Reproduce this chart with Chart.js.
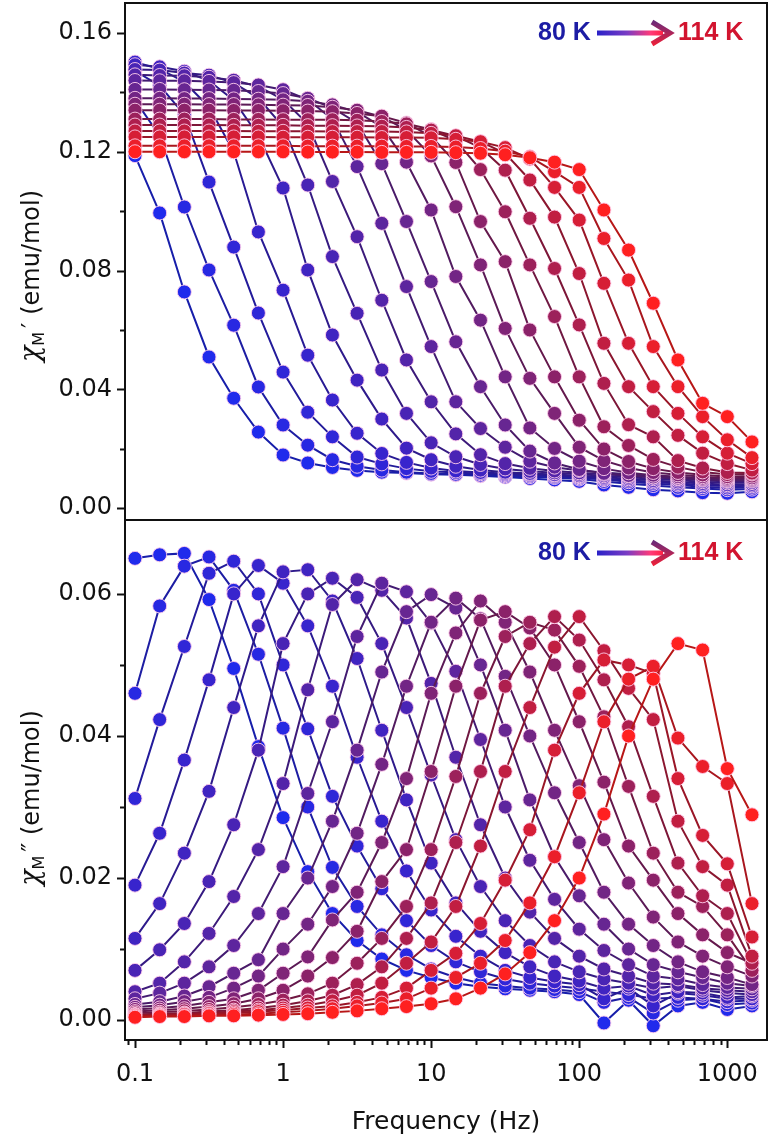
<!DOCTYPE html>
<html>
<head>
<meta charset="utf-8">
<script src="https://cdn.jsdelivr.net/npm/chart.js@4.4.1/dist/chart.umd.min.js"></script>
<style>
  html, body { margin: 0; padding: 0; background: #fff; }
  #wrap { position: relative; width: 775px; height: 1143px; }
  canvas { position: absolute; left: 0; }
  #top-chart { top: 0; }
  #bottom-chart { top: 516px; }
</style>
</head>
<body>
<div id="wrap">
  <canvas id="top-chart" width="775" height="524"></canvas>
  <canvas id="bottom-chart" width="775" height="627"></canvas>
</div>
<script>
// ac frequencies (Hz)
const freqHz = [0.1, 0.1468, 0.2154, 0.3162, 0.4642, 0.6813, 1, 1.468, 2.154, 3.162, 4.642, 6.813,
  10, 14.68, 21.54, 31.62, 46.42, 68.13, 100, 146.8, 215.4, 316.2, 464.2, 681.3, 1000, 1468];
const temps = [80, 82, 84, 86, 88, 90, 92, 94, 96, 98, 100, 102, 104, 106, 108, 110, 112, 114];

// chi' (emu/mol)
const re80 = [0.1187, 0.0994, 0.0728, 0.0509, 0.0370, 0.0256, 0.0179, 0.0152, 0.0137, 0.0127, 0.0121, 0.0118, 0.0114, 0.0112, 0.0109, 0.0105, 0.0100, 0.0095, 0.0090, 0.0078, 0.0070, 0.0062, 0.0058, 0.0052, 0.0050, 0.0055];
const re82 = [0.1374, 0.1254, 0.1014, 0.0802, 0.0616, 0.0408, 0.0280, 0.0212, 0.0163, 0.0141, 0.0128, 0.0121, 0.0117, 0.0114, 0.0111, 0.0109, 0.0106, 0.0103, 0.0098, 0.0090, 0.0082, 0.0076, 0.0070, 0.0066, 0.0062, 0.0064];
const re84 = [0.1472, 0.1423, 0.1325, 0.1098, 0.0879, 0.0657, 0.0458, 0.0323, 0.0240, 0.0172, 0.0149, 0.0133, 0.0124, 0.0120, 0.0116, 0.0113, 0.0110, 0.0107, 0.0102, 0.0096, 0.0089, 0.0083, 0.0078, 0.0072, 0.0068, 0.0070];
const re86 = [0.1502, 0.1479, 0.1435, 0.1351, 0.1200, 0.0930, 0.0734, 0.0515, 0.0364, 0.0252, 0.0184, 0.0154, 0.0135, 0.0125, 0.0120, 0.0117, 0.0114, 0.0111, 0.0106, 0.0100, 0.0094, 0.0088, 0.0083, 0.0078, 0.0074, 0.0075];
const re88 = [0.1493, 0.1486, 0.1471, 0.1439, 0.1374, 0.1254, 0.1078, 0.0802, 0.0583, 0.0431, 0.0300, 0.0202, 0.0163, 0.0141, 0.0128, 0.0121, 0.0117, 0.0113, 0.0109, 0.0104, 0.0099, 0.0093, 0.0088, 0.0083, 0.0079, 0.0080];
const re90 = [0.1477, 0.1475, 0.1465, 0.1458, 0.1432, 0.1381, 0.1285, 0.1088, 0.0847, 0.0656, 0.0465, 0.0319, 0.0220, 0.0173, 0.0147, 0.0132, 0.0124, 0.0119, 0.0114, 0.0109, 0.0104, 0.0099, 0.0094, 0.0089, 0.0085, 0.0086];
const re92 = [0.1459, 0.1457, 0.1456, 0.1451, 0.1441, 0.1420, 0.1376, 0.1293, 0.1100, 0.0914, 0.0700, 0.0499, 0.0358, 0.0250, 0.0180, 0.0150, 0.0134, 0.0125, 0.0119, 0.0114, 0.0109, 0.0104, 0.0099, 0.0094, 0.0090, 0.0091];
const re94 = [0.1440, 0.1439, 0.1439, 0.1437, 0.1433, 0.1425, 0.1409, 0.1376, 0.1310, 0.1150, 0.0959, 0.0746, 0.0544, 0.0358, 0.0268, 0.0205, 0.0158, 0.0138, 0.0127, 0.0120, 0.0114, 0.0109, 0.0104, 0.0099, 0.0095, 0.0096];
const re96 = [0.1410, 0.1410, 0.1409, 0.1408, 0.1407, 0.1403, 0.1396, 0.1380, 0.1348, 0.1297, 0.1160, 0.0965, 0.0763, 0.0560, 0.0409, 0.0280, 0.0192, 0.0152, 0.0130, 0.0117, 0.0110, 0.0105, 0.0101, 0.0097, 0.0093, 0.0094];
const re98 = [0.1380, 0.1380, 0.1379, 0.1379, 0.1378, 0.1377, 0.1375, 0.1370, 0.1358, 0.1334, 0.1284, 0.1165, 0.1004, 0.0780, 0.0633, 0.0442, 0.0270, 0.0201, 0.0158, 0.0133, 0.0119, 0.0111, 0.0106, 0.0101, 0.0097, 0.0098];
const re100 = [0.1360, 0.1360, 0.1360, 0.1359, 0.1359, 0.1358, 0.1357, 0.1356, 0.1350, 0.1340, 0.1318, 0.1273, 0.1186, 0.1015, 0.0819, 0.0605, 0.0437, 0.0319, 0.0205, 0.0160, 0.0135, 0.0120, 0.0112, 0.0106, 0.0101, 0.0102];
const re102 = [0.1340, 0.1340, 0.1340, 0.1340, 0.1339, 0.1339, 0.1338, 0.1337, 0.1335, 0.1329, 0.1320, 0.1297, 0.1251, 0.1164, 0.0965, 0.0830, 0.0600, 0.0442, 0.0296, 0.0199, 0.0157, 0.0133, 0.0120, 0.0112, 0.0106, 0.0108];
const re104 = [0.1310, 0.1310, 0.1310, 0.1310, 0.1309, 0.1309, 0.1308, 0.1308, 0.1308, 0.1306, 0.1302, 0.1294, 0.1275, 0.1237, 0.1140, 0.0998, 0.0819, 0.0645, 0.0442, 0.0274, 0.0211, 0.0164, 0.0138, 0.0122, 0.0113, 0.0115];
const re106 = [0.1290, 0.1290, 0.1290, 0.1290, 0.1289, 0.1289, 0.1289, 0.1288, 0.1288, 0.1287, 0.1286, 0.1282, 0.1273, 0.1253, 0.1214, 0.1138, 0.0976, 0.0807, 0.0617, 0.0420, 0.0281, 0.0240, 0.0160, 0.0135, 0.0120, 0.0118];
const re108 = [0.1270, 0.1270, 0.1270, 0.1270, 0.1270, 0.1269, 0.1269, 0.1269, 0.1268, 0.1268, 0.1268, 0.1267, 0.1262, 0.1254, 0.1234, 0.1195, 0.1105, 0.0980, 0.0790, 0.0555, 0.0409, 0.0325, 0.0245, 0.0185, 0.0150, 0.0128];
const re110 = [0.1250, 0.1250, 0.1250, 0.1250, 0.1250, 0.1250, 0.1249, 0.1249, 0.1249, 0.1249, 0.1248, 0.1248, 0.1247, 0.1242, 0.1234, 0.1214, 0.1176, 0.1080, 0.0970, 0.0757, 0.0555, 0.0409, 0.0319, 0.0240, 0.0185, 0.0150];
const re112 = [0.1220, 0.1220, 0.1220, 0.1220, 0.1220, 0.1220, 0.1220, 0.1219, 0.1219, 0.1219, 0.1219, 0.1218, 0.1218, 0.1216, 0.1211, 0.1202, 0.1183, 0.1133, 0.1080, 0.0908, 0.0768, 0.0544, 0.0409, 0.0308, 0.0230, 0.0170];
const re114 = [0.1200, 0.1200, 0.1200, 0.1200, 0.1200, 0.1200, 0.1200, 0.1199, 0.1199, 0.1199, 0.1198, 0.1198, 0.1198, 0.1197, 0.1195, 0.1190, 0.1180, 0.1165, 0.1140, 0.1004, 0.0869, 0.0690, 0.0499, 0.0353, 0.0308, 0.0223];

// chi'' (emu/mol)
const im80 = [0.0650, 0.0655, 0.0657, 0.0592, 0.0495, 0.0385, 0.0285, 0.0209, 0.0150, 0.0112, 0.0086, 0.0070, 0.0060, 0.0052, 0.0047, 0.0044, 0.0042, 0.0040, 0.0036, -0.0004, 0.0028, -0.0008, 0.0020, 0.0025, 0.0015, 0.0020];
const im82 = [0.0460, 0.0583, 0.0639, 0.0652, 0.0605, 0.0515, 0.0411, 0.0300, 0.0215, 0.0160, 0.0120, 0.0092, 0.0072, 0.0060, 0.0052, 0.0048, 0.0045, 0.0043, 0.0040, 0.0025, 0.0032, 0.0010, 0.0028, 0.0030, 0.0022, 0.0024];
const im84 = [0.0312, 0.0423, 0.0526, 0.0629, 0.0646, 0.0600, 0.0500, 0.0410, 0.0315, 0.0245, 0.0185, 0.0140, 0.0105, 0.0082, 0.0068, 0.0058, 0.0052, 0.0048, 0.0045, 0.0040, 0.0036, 0.0030, 0.0032, 0.0030, 0.0026, 0.0028];
const im86 = [0.0190, 0.0263, 0.0366, 0.0479, 0.0600, 0.0640, 0.0615, 0.0555, 0.0470, 0.0370, 0.0280, 0.0210, 0.0155, 0.0118, 0.0090, 0.0070, 0.0060, 0.0054, 0.0050, 0.0030, 0.0045, 0.0020, 0.0038, 0.0035, 0.0030, 0.0030];
const im88 = [0.0115, 0.0164, 0.0235, 0.0322, 0.0440, 0.0555, 0.0631, 0.0634, 0.0590, 0.0509, 0.0408, 0.0310, 0.0221, 0.0165, 0.0125, 0.0095, 0.0075, 0.0062, 0.0055, 0.0045, 0.0048, 0.0035, 0.0040, 0.0038, 0.0032, 0.0034];
const im90 = [0.0070, 0.0099, 0.0136, 0.0195, 0.0275, 0.0380, 0.0530, 0.0600, 0.0622, 0.0595, 0.0530, 0.0440, 0.0345, 0.0254, 0.0188, 0.0140, 0.0105, 0.0082, 0.0068, 0.0058, 0.0052, 0.0045, 0.0048, 0.0042, 0.0038, 0.0036];
const im92 = [0.0040, 0.0052, 0.0082, 0.0122, 0.0174, 0.0240, 0.0333, 0.0465, 0.0585, 0.0620, 0.0605, 0.0566, 0.0474, 0.0370, 0.0275, 0.0200, 0.0152, 0.0115, 0.0090, 0.0072, 0.0062, 0.0052, 0.0050, 0.0045, 0.0042, 0.0040];
const im94 = [0.0030, 0.0038, 0.0052, 0.0075, 0.0105, 0.0150, 0.0216, 0.0319, 0.0420, 0.0540, 0.0615, 0.0603, 0.0559, 0.0491, 0.0395, 0.0300, 0.0225, 0.0170, 0.0128, 0.0098, 0.0078, 0.0062, 0.0058, 0.0050, 0.0046, 0.0044];
const im96 = [0.0022, 0.0026, 0.0034, 0.0047, 0.0066, 0.0085, 0.0150, 0.0200, 0.0280, 0.0380, 0.0490, 0.0575, 0.0599, 0.0580, 0.0500, 0.0408, 0.0310, 0.0230, 0.0175, 0.0135, 0.0100, 0.0078, 0.0068, 0.0060, 0.0052, 0.0048];
const im98 = [0.0018, 0.0021, 0.0026, 0.0032, 0.0045, 0.0062, 0.0100, 0.0135, 0.0188, 0.0263, 0.0360, 0.0470, 0.0560, 0.0594, 0.0565, 0.0484, 0.0400, 0.0320, 0.0250, 0.0180, 0.0135, 0.0105, 0.0082, 0.0068, 0.0060, 0.0050];
const im100 = [0.0015, 0.0017, 0.0020, 0.0025, 0.0030, 0.0042, 0.0066, 0.0089, 0.0141, 0.0180, 0.0250, 0.0340, 0.0460, 0.0545, 0.0590, 0.0560, 0.0490, 0.0408, 0.0330, 0.0254, 0.0193, 0.0145, 0.0110, 0.0090, 0.0075, 0.0062];
const im102 = [0.0012, 0.0014, 0.0016, 0.0019, 0.0023, 0.0030, 0.0042, 0.0062, 0.0088, 0.0125, 0.0195, 0.0240, 0.0350, 0.0470, 0.0563, 0.0575, 0.0552, 0.0500, 0.0420, 0.0335, 0.0245, 0.0197, 0.0150, 0.0120, 0.0095, 0.0080];
const im104 = [0.0010, 0.0011, 0.0013, 0.0015, 0.0018, 0.0022, 0.0028, 0.0037, 0.0052, 0.0080, 0.0115, 0.0160, 0.0240, 0.0343, 0.0460, 0.0540, 0.0560, 0.0549, 0.0498, 0.0427, 0.0329, 0.0235, 0.0180, 0.0160, 0.0120, 0.0070];
const im106 = [0.0008, 0.0009, 0.0010, 0.0012, 0.0014, 0.0017, 0.0021, 0.0027, 0.0035, 0.0050, 0.0075, 0.0115, 0.0165, 0.0250, 0.0350, 0.0470, 0.0530, 0.0568, 0.0535, 0.0479, 0.0413, 0.0315, 0.0221, 0.0175, 0.0150, 0.0080];
const im108 = [0.0007, 0.0008, 0.0009, 0.0010, 0.0012, 0.0014, 0.0017, 0.0021, 0.0027, 0.0035, 0.0052, 0.0080, 0.0110, 0.0160, 0.0245, 0.0350, 0.0440, 0.0525, 0.0568, 0.0520, 0.0467, 0.0423, 0.0280, 0.0216, 0.0190, 0.0090];
const im110 = [0.0006, 0.0007, 0.0008, 0.0009, 0.0010, 0.0012, 0.0014, 0.0017, 0.0020, 0.0025, 0.0032, 0.0045, 0.0070, 0.0094, 0.0136, 0.0197, 0.0268, 0.0380, 0.0460, 0.0507, 0.0500, 0.0488, 0.0340, 0.0260, 0.0220, 0.0117];
const im112 = [0.0005, 0.0006, 0.0006, 0.0007, 0.0008, 0.0009, 0.0011, 0.0013, 0.0016, 0.0020, 0.0024, 0.0030, 0.0045, 0.0060, 0.0080, 0.0112, 0.0165, 0.0230, 0.0320, 0.0420, 0.0480, 0.0498, 0.0397, 0.0357, 0.0333, 0.0164];
const im114 = [0.0004, 0.0005, 0.0005, 0.0006, 0.0006, 0.0007, 0.0008, 0.0009, 0.0011, 0.0013, 0.0016, 0.0019, 0.0023, 0.0030, 0.0045, 0.0065, 0.0095, 0.0140, 0.0200, 0.0290, 0.0400, 0.0480, 0.0530, 0.0521, 0.0354, 0.0289];

const realSeries = [re80, re82, re84, re86, re88, re90, re92, re94, re96, re98, re100, re102, re104, re106, re108, re110, re112, re114];
const imagSeries = [im80, im82, im84, im86, im88, im90, im92, im94, im96, im98, im100, im102, im104, im106, im108, im110, im112, im114];

const xTickLabels = [0.1, 1, 10, 100, 1000];
const yTicksTop = [0, 0.04, 0.08, 0.12, 0.16];
const yTicksBottom = [0, 0.02, 0.04, 0.06];

// blue -> purple -> red
const stops = [
  [0, [32, 42, 236]], [0.18, [56, 36, 204]], [0.35, [82, 36, 170]], [0.5, [108, 38, 140]],
  [0.65, [140, 34, 104]], [0.8, [184, 30, 70]], [0.92, [228, 30, 46]], [1, [255, 32, 32]]
];
function mix(t) {
  for (let i = 1; i < stops.length; i++) {
    if (t <= stops[i][0]) {
      const [t0, c0] = stops[i - 1], [t1, c1] = stops[i];
      const f = (t - t0) / (t1 - t0);
      return c0.map((v, j) => Math.round(v + (c1[j] - v) * f));
    }
  }
  return stops[stops.length - 1][1];
}
const rgb = (c, k = 1) => `rgb(${Math.round(c[0] * k)},${Math.round(c[1] * k)},${Math.round(c[2] * k)})`;

function makeDatasets(series) {
  return series.map((vals, i) => {
    const c = mix(i / (series.length - 1));
    return {
      label: temps[i] + ' K',
      data: freqHz.map((f, k) => ({ x: f, y: vals[k] })),
      borderColor: rgb(c, 0.72),
      backgroundColor: rgb(c),
      pointBackgroundColor: rgb(c),
      pointBorderColor: 'rgba(255,205,235,0.9)',
      pointBorderWidth: 1,
      pointRadius: 7,
      borderWidth: 2,
      tension: 0,
      order: series.length - 1 - i
    };
  });
}

// no extra room for edge tick labels
function fixY(s) { s.width = 125; s.paddingTop = 0; s.paddingBottom = 0; }
function fixX(s) { s.height = 103; s.paddingLeft = 0; s.paddingRight = 0; }

const frameTicks = {
  id: 'frameTicks',
  afterDraw(chart, args, opts) {
    const { ctx, chartArea: a, scales } = chart;
    ctx.save();
    ctx.strokeStyle = '#111';
    ctx.lineWidth = 2;
    ctx.strokeRect(a.left, a.top, a.right - a.left, a.bottom - a.top);
    const y = scales.y;
    for (let v = opts.yMin; v <= opts.yMax + 1e-9; v += opts.yMinor) {
      const py = Math.round(y.getPixelForValue(v)) + 0.5;
      const major = Math.abs(v / opts.yMajor - Math.round(v / opts.yMajor)) < 1e-6;
      ctx.beginPath();
      ctx.moveTo(a.left - (major ? 8 : 5), py);
      ctx.lineTo(a.left, py);
      ctx.stroke();
    }
    if (opts.xTicks) {
      const x = scales.x;
      for (let e = -2; e <= 3; e++) {
        for (let m = 1; m <= 9; m++) {
          const v = m * Math.pow(10, e);
          if (v < x.min || v > x.max) continue;
          const px = Math.round(x.getPixelForValue(v)) + 0.5;
          ctx.beginPath();
          ctx.moveTo(px, a.bottom);
          ctx.lineTo(px, a.bottom + (m === 1 ? 8 : 5));
          ctx.stroke();
        }
      }
    }
    ctx.restore();
  }
};

const decorations = {
  id: 'decorations',
  afterDraw(chart, args, opts) {
    const { ctx } = chart;
    // rotated y title with subscript M
    ctx.save();
    ctx.translate(31, opts.titleY);
    ctx.rotate(-Math.PI / 2);
    const fChi = 'italic 27px "DejaVu Serif"';
    const fSub = '16px "DejaVu Sans"';
    const fMain = '24px "DejaVu Sans"';
    ctx.font = fChi; const wChi = ctx.measureText('χ').width;
    ctx.font = fSub; const wSub = ctx.measureText('M').width;
    ctx.font = fMain;
    const wPrime = ctx.measureText(opts.prime).width;
    const rest = ' (emu/mol)';
    const wRest = ctx.measureText(rest).width;
    let x = -(wChi + wSub + 4 + wPrime + wRest) / 2;
    ctx.fillStyle = '#111';
    ctx.textBaseline = 'alphabetic';
    ctx.font = fChi; ctx.fillText('χ', x, 8); x += wChi;
    ctx.font = fSub; ctx.fillText('M', x, 13); x += wSub + 4;
    ctx.font = fMain; ctx.fillText(opts.prime, x, 8); x += wPrime;
    ctx.fillText(rest, x, 8);
    ctx.restore();

    // 80 K -> 114 K annotation
    const cy = opts.legendY;
    ctx.save();
    ctx.font = 'bold 25px "Liberation Sans"';
    ctx.textBaseline = 'middle';
    ctx.fillStyle = '#1c1ca4';
    ctx.fillText('80 K', 538, cy);
    const g = ctx.createLinearGradient(597, 0, 664, 0);
    g.addColorStop(0, '#2a22c8');
    g.addColorStop(0.45, '#7a3cc4');
    g.addColorStop(0.8, '#ff3a78');
    g.addColorStop(1, '#ff2040');
    ctx.fillStyle = g;
    ctx.fillRect(597, cy - 2.5, 66, 5);
    const gh = ctx.createLinearGradient(0, cy - 11, 0, cy + 11);
    gh.addColorStop(0, '#6e2a78');
    gh.addColorStop(1, '#e8203c');
    ctx.strokeStyle = gh;
    ctx.lineWidth = 5;
    ctx.lineJoin = 'miter';
    ctx.beginPath();
    ctx.moveTo(652, cy - 11);
    ctx.lineTo(670, cy);
    ctx.lineTo(652, cy + 11);
    ctx.stroke();
    ctx.fillStyle = '#d2142f';
    ctx.fillText('114 K', 678, cy);
    ctx.restore();
  }
};

const tickFont = { family: 'DejaVu Sans', size: 24 };
const xMin = 0.0856, xMax = 1854;

new Chart(document.getElementById('top-chart'), {
  type: 'line',
  data: { datasets: makeDatasets(realSeries) },
  options: {
    responsive: false,
    animation: false,
    layout: { autoPadding: false, padding: { top: 3, right: 8, bottom: 4, left: 0 } },
    plugins: {
      legend: { display: false },
      tooltip: { enabled: false },
      frameTicks: { yMin: 0, yMax: 0.16, yMinor: 0.02, yMajor: 0.04 },
      decorations: { titleY: 276, prime: '′', legendY: 33 }
    },
    scales: {
      x: { type: 'logarithmic', min: xMin, max: xMax, display: false },
      y: {
        min: -0.0040, max: 0.1701,
        afterFit: fixY,
        grid: { display: false, drawTicks: true, tickLength: 8 },
        border: { display: false },
        ticks: {
          stepSize: 0.04, includeBounds: false, padding: 5,
          font: tickFont, color: '#111',
          callback: v => yTicksTop.some(t => Math.abs(t - v) < 1e-6) ? v.toFixed(2) : ''
        }
      }
    }
  },
  plugins: [frameTicks, decorations]
});

new Chart(document.getElementById('bottom-chart'), {
  type: 'line',
  data: { datasets: makeDatasets(imagSeries) },
  options: {
    responsive: false,
    animation: false,
    layout: { autoPadding: false, padding: { top: 4, right: 8, bottom: 0, left: 0 } },
    plugins: {
      legend: { display: false },
      tooltip: { enabled: false },
      frameTicks: { yMin: 0, yMax: 0.06, yMinor: 0.01, yMajor: 0.02, xTicks: true },
      decorations: { titleY: 282, prime: '″', legendY: 37 }
    },
    scales: {
      x: {
        type: 'logarithmic', min: xMin, max: xMax,
        afterFit: fixX,
        grid: { display: false, drawTicks: true, tickLength: 8 },
        border: { display: false },
        ticks: {
          autoSkip: false, maxRotation: 0, minRotation: 0, padding: 12,
          font: tickFont, color: '#111',
          callback: v => {
            const hit = xTickLabels.find(t => Math.abs(Math.log10(t) - Math.log10(v)) < 1e-6);
            return hit === undefined ? '' : String(hit);
          }
        },
        title: {
          display: true, text: 'Frequency (Hz)', color: '#111',
          font: { family: 'DejaVu Sans', size: 25 },
          padding: { top: 0, bottom: 6 }
        }
      },
      y: {
        min: -0.0028, max: 0.0704,
        afterFit: fixY,
        grid: { display: false, drawTicks: true, tickLength: 8 },
        border: { display: false },
        ticks: {
          stepSize: 0.02, includeBounds: false, padding: 5,
          font: tickFont, color: '#111',
          callback: v => yTicksBottom.some(t => Math.abs(t - v) < 1e-6) ? v.toFixed(2) : ''
        }
      }
    }
  },
  plugins: [frameTicks, decorations]
});
</script>
</body>
</html>
